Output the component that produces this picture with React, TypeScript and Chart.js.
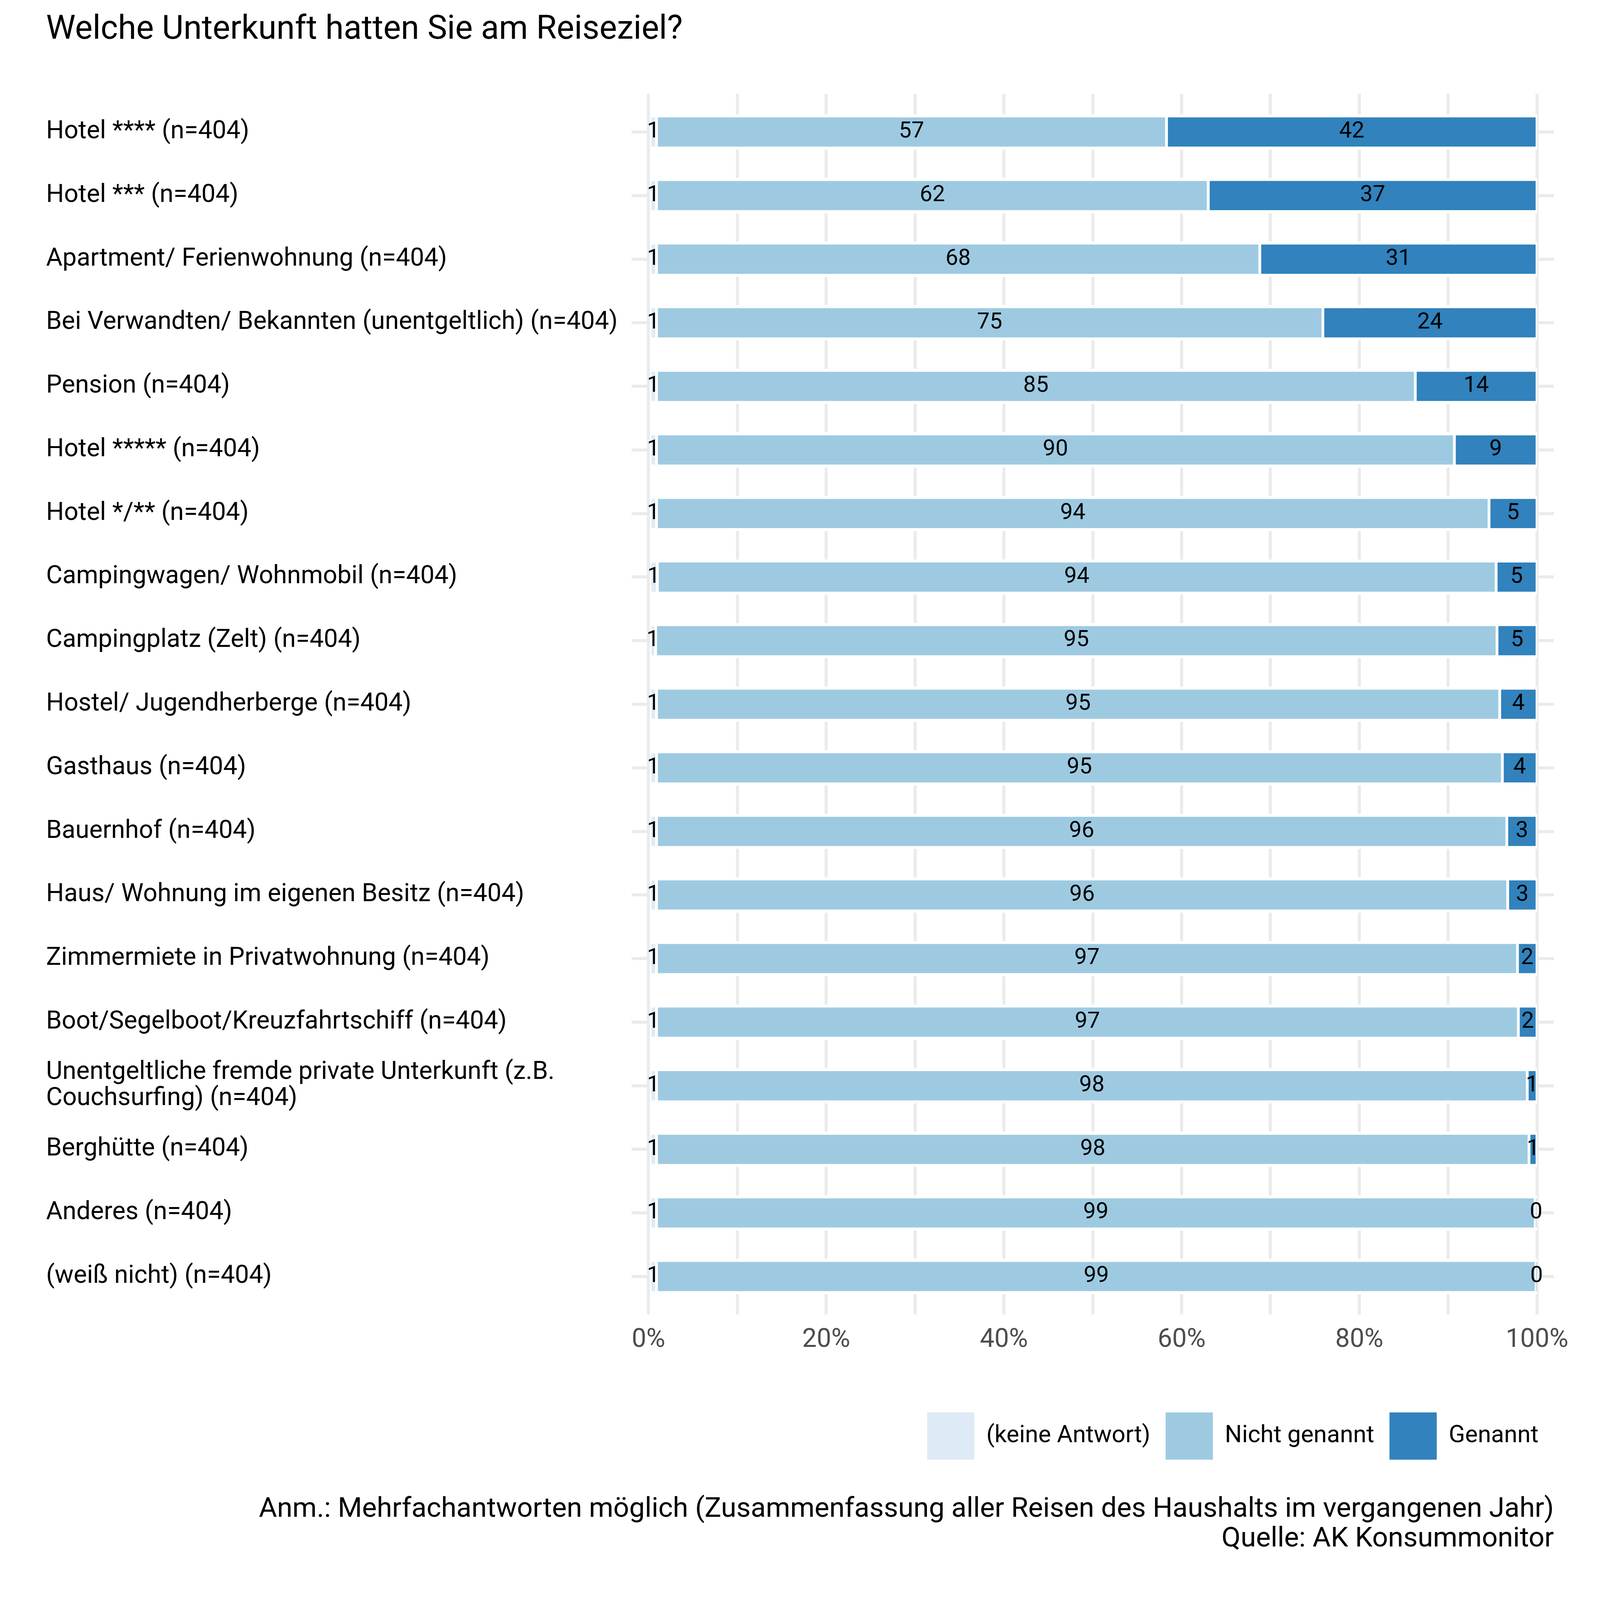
import { useEffect, useRef } from "react";
import { Chart, registerables } from "chart.js";

Chart.register(...registerables);

const categories: (string | string[])[] = [
  "Hotel **** (n=404)",
  "Hotel *** (n=404)",
  "Apartment/ Ferienwohnung (n=404)",
  "Bei Verwandten/ Bekannten (unentgeltlich) (n=404)",
  "Pension (n=404)",
  "Hotel ***** (n=404)",
  "Hotel */** (n=404)",
  "Campingwagen/ Wohnmobil (n=404)",
  "Campingplatz (Zelt) (n=404)",
  "Hostel/ Jugendherberge (n=404)",
  "Gasthaus (n=404)",
  "Bauernhof (n=404)",
  "Haus/ Wohnung im eigenen Besitz (n=404)",
  "Zimmermiete in Privatwohnung (n=404)",
  "Boot/Segelboot/Kreuzfahrtschiff (n=404)",
  ["Unentgeltliche fremde private Unterkunft (z.B.", "Couchsurfing) (n=404)"],
  "Berghütte (n=404)",
  "Anderes (n=404)",
  "(weiß nicht) (n=404)",
];

// percentages per row
const keineAntwort = [0.9, 0.9, 0.9, 0.9, 0.9, 0.9, 0.9, 1.0, 0.8, 0.9, 0.9, 0.9, 0.9, 0.9, 0.9, 0.9, 0.9, 0.9, 0.9];
const nichtGenannt = [57.4, 62.1, 67.9, 75.0, 85.4, 89.8, 93.7, 94.4, 94.7, 94.9, 95.2, 95.7, 95.8, 96.9, 97.0, 98.0, 98.2, 98.9, 99.0];
const genannt = [41.7, 37.0, 31.2, 24.1, 13.7, 9.3, 5.4, 4.6, 4.5, 4.2, 3.9, 3.4, 3.3, 2.2, 2.1, 1.1, 0.9, 0.2, 0.1];

const seriesNames = ["(keine Antwort)", "Nicht genannt", "Genannt"];
const seriesColors = ["#DEEBF7", "#9ECAE1", "#3182BD"];
const xTicks = [0, 10, 20, 30, 40, 50, 60, 70, 80, 90, 100];

const GRID = "#EBEBEB";

// right-aligned legend rows can wrap their last item on rounding error; give them a little slack
const legendSlack = {
  id: "legendSlack",
  afterLayout(chart: Chart) {
    const lg: any = chart.legend;
    if (lg && lg.lineWidths) lg.lineWidths = lg.lineWidths.map((w: number) => w + 0.5);
  },
};

export default function App() {
  const wrapRef = useRef<HTMLDivElement | null>(null);
  const canvasRef = useRef<HTMLCanvasElement | null>(null);
  const chartRef = useRef<Chart | null>(null);

  useEffect(() => {
    chartRef.current?.destroy();
    if (!canvasRef.current || !wrapRef.current) return;

    // the layout was measured on a 4200px picture; scale to the real viewport
    const s = wrapRef.current.clientWidth / 4200;
    const px = (v: number) => v * s;

    const barLabels = {
      id: "barLabels",
      afterDatasetsDraw(chart: Chart) {
        const { ctx } = chart;
        ctx.save();
        ctx.font = `${px(59)}px Roboto`;
        ctx.fillStyle = "#000000";
        ctx.textAlign = "center";
        ctx.textBaseline = "middle";
        chart.data.datasets.forEach((ds, i) => {
          const meta = chart.getDatasetMeta(i);
          meta.data.forEach((bar: any, j) => {
            const v = (ds.data[j] as any).x as number;
            const { x, base, y } = bar.getProps(["x", "base", "y"], true);
            ctx.fillText(String(Math.round(v)), (x + base) / 2, y);
          });
        });
        ctx.restore();
      },
    };

    const series = [keineAntwort, nichtGenannt, genannt];

    chartRef.current = new Chart(canvasRef.current, {
      type: "bar",
      data: {
        datasets: series.map((vals, i) => ({
          label: seriesNames[i],
          data: vals.map((v, j) => ({ x: v, y: j })),
          backgroundColor: seriesColors[i],
          borderColor: "#FFFFFF",
          borderWidth: { top: px(8), bottom: px(8), left: px(4), right: px(4) },
          borderSkipped: false,
          barThickness: px(92),
        })),
      },
      plugins: [barLabels, legendSlack],
      options: {
        indexAxis: "y",
        animation: false,
        responsive: true,
        maintainAspectRatio: false,
        layout: { padding: { left: px(121), right: px(121), top: 0, bottom: px(120) } },
        scales: {
          x: {
            type: "linear",
            stacked: true,
            min: -1.9,
            max: 101.9,
            afterBuildTicks: (scale) => {
              scale.ticks = xTicks.map((v) => ({ value: v }));
            },
            afterFit: (scale) => {
              scale.height += px(81);
            },
            border: { display: false },
            grid: { color: GRID, lineWidth: px(8), drawTicks: false },
            ticks: {
              padding: px(27),
              color: "#4D4D4D",
              font: { size: px(68), family: "Roboto" },
              callback: (v) => ((v as number) % 20 === 0 ? `${v}%` : ""),
            },
          },
          y: {
            type: "linear",
            stacked: true,
            reverse: true,
            offset: false,
            min: -0.6,
            max: 18.6,
            afterBuildTicks: (scale) => {
              scale.ticks = categories.map((_, i) => ({ value: i }));
            },
            afterFit: (scale) => {
              scale.width = px(1537);
            },
            border: { display: false },
            grid: { color: GRID, lineWidth: px(8), drawTicks: false, offset: false },
            ticks: {
              crossAlign: "far",
              color: "#000000",
              font: { size: px(66), family: "Roboto", lineHeight: 1.03 },
              callback: (v) => categories[v as number] ?? "",
            },
          },
        },
        plugins: {
          title: {
            display: true,
            text: "Welche Unterkunft hatten Sie am Reiseziel?",
            align: "start",
            color: "#000000",
            font: { size: px(87), weight: "normal", family: "Roboto" },
            padding: { top: px(28), bottom: px(114) },
          },
          subtitle: {
            display: true,
            position: "bottom",
            align: "end",
            color: "#000000",
            text: [
              "Anm.: Mehrfachantworten möglich (Zusammenfassung aller Reisen des Haushalts im vergangenen Jahr)",
              "Quelle: AK Konsummonitor",
            ],
            font: { size: px(73), family: "Roboto", lineHeight: 1.07 },
            padding: { top: px(82), bottom: 0 },
          },
          legend: {
            position: "bottom",
            align: "end",
            labels: {
              boxWidth: px(124),
              boxHeight: px(124),
              padding: px(40),
              color: "#000000",
              font: { size: px(63), family: "Roboto" },
              generateLabels: () =>
                seriesNames.map((name, i) => ({
                  text: name,
                  fillStyle: seriesColors[i],
                  strokeStyle: "rgba(0,0,0,0)",
                  lineWidth: 0,
                  datasetIndex: i,
                  hidden: false,
                })),
            },
          },
          tooltip: { enabled: false },
        },
      },
    });

    return () => {
      chartRef.current?.destroy();
      chartRef.current = null;
    };
  }, []);

  return (
    <div
      ref={wrapRef}
      style={{ position: "fixed", left: 0, top: 0, right: 0, bottom: 0, background: "#FFFFFF", overflow: "hidden" }}
    >
      <canvas ref={canvasRef}></canvas>
    </div>
  );
}
